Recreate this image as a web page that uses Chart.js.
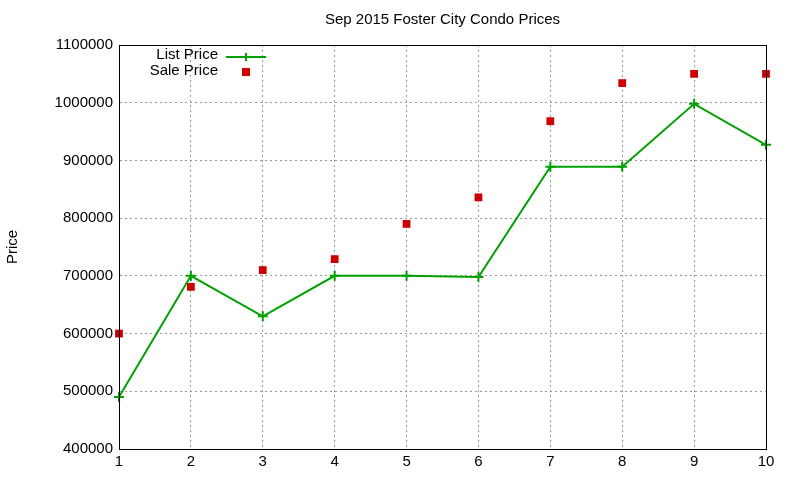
<!DOCTYPE html>
<html><head><meta charset="utf-8">
<script src="https://cdn.jsdelivr.net/npm/chart.js@4/dist/chart.umd.min.js"></script>
<style>html,body{margin:0;background:#fff}#w{width:800px;height:480px}</style>
</head><body><div id="w"><canvas id="c"></canvas></div>
<script>
const months = [1,2,3,4,5,6,7,8,9,10];
const listPrice = [490000,700000,630000,700000,700000,698000,889000,889000,998000,927000];
const salePrice = [600000,681000,710000,729000,790000,836000,968000,1034000,1050000,1050000];
const titleText = 'Sep 2015 Foster City Condo Prices';
const F = '"Liberation Sans", Arial, sans-serif';
const deco = {
  id:'deco',
  afterDraw(ch){
    const c=ch.ctx, a=ch.chartArea;
    c.save();
    c.strokeStyle='#000';c.lineWidth=1;
    c.strokeRect(a.left+0.5,a.top+0.5,a.right-a.left,a.bottom-a.top);
    c.fillStyle='#000';c.font='15px '+F;c.textAlign='center';c.textBaseline='middle';
    c.fillText(titleText,(a.left+a.right)/2,20);
    c.textAlign='right';
    c.fillText('List Price',218,55);
    c.fillText('Sale Price',218,71);
    c.strokeStyle='#00a000';c.lineWidth=2;
    c.beginPath();c.moveTo(226,57);c.lineTo(266,57);c.stroke();
    c.beginPath();c.moveTo(246,53);c.lineTo(246,61);c.moveTo(242,57);c.lineTo(250,57);c.stroke();
    c.fillStyle='#cc0000';c.fillRect(242,68,8,8);
    c.restore();
  }
};
new Chart(document.getElementById('c'),{
  type:'line',
  data:{datasets:[
    {label:'List Price',data:months.map((m,i)=>({x:m,y:listPrice[i]})),borderColor:'#00a000',backgroundColor:'#00a000',borderWidth:2,pointStyle:'cross',pointRadius:5,pointBorderWidth:2,tension:0,clip:false},
    {label:'Sale Price',data:months.map((m,i)=>({x:m,y:salePrice[i]})),showLine:false,pointStyle:'rect',pointRadius:5.5,backgroundColor:'#cc0000',borderColor:'#cc0000',borderWidth:0,clip:false}
  ]},
  options:{
    responsive:true,maintainAspectRatio:false,animation:false,
    layout:{padding:{top:45,right:34,left:0,bottom:0}},
    plugins:{legend:{display:false},title:{display:false},tooltip:{enabled:false}},
    scales:{
      x:{type:'linear',min:1,max:10,
        ticks:{stepSize:1,color:'#000',font:{family:F,size:15},padding:4},
        grid:{color:'#999',drawTicks:false},border:{display:true,color:'#000',dash:[2,3]},
        afterFit(s){s.height=31;}},
      y:{min:400000,max:1100000,
        ticks:{stepSize:100000,color:'#000',font:{family:F,size:15},padding:6,callback:v=>String(v)},
        grid:{color:'#999',drawTicks:false},border:{display:true,color:'#000',dash:[2,3]},
        title:{display:true,text:'Price',color:'#000',font:{family:F,size:15}},
        afterFit(s){s.width=119;}}
    }
  },
  plugins:[deco]
});
</script></body></html>
